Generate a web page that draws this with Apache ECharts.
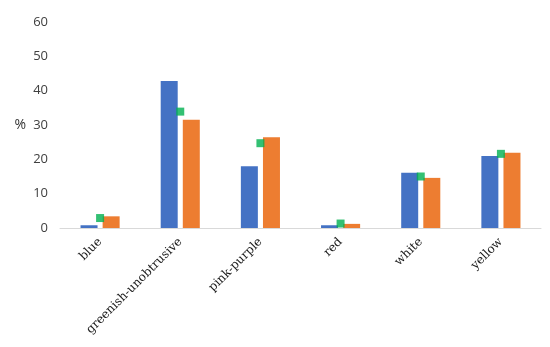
<!DOCTYPE html>
<html><head><meta charset="utf-8">
<script src="https://cdn.jsdelivr.net/npm/echarts@6/dist/echarts.min.js"></script>
<style>html,body{margin:0;padding:0;background:#fff}#c{width:550px;height:347px}</style>
</head><body><div id="c"></div>
<script>
const categories = ["blue","greenish-unobtrusive","pink-purple","red","white","yellow"];
const seriesBlue = [0.8, 42.8, 18.0, 0.8, 16.1, 21.0];
const seriesOrange = [3.4, 31.5, 26.4, 1.2, 14.6, 21.9];
const seriesGreen = [2.9, 33.9, 24.7, 1.3, 15.0, 21.6];
const yTicks = [0, 10, 20, 30, 40, 50, 60];

const chart = echarts.init(document.getElementById('c'), null, {renderer:'canvas'});
chart.setOption({
  animation: false,
  grid: {left: 60, right: 9, top: 22, bottom: 119},
  xAxis: {
    type: 'category', data: categories,
    axisLine: {lineStyle: {color: '#d9d9d9', width: 1}},
    axisTick: {show: false},
    axisLabel: {rotate: 45, fontFamily: 'DejaVu Serif', fontSize: 12, color: '#1a1a1a', margin: 12, interval: 0}
  },
  yAxis: {
    type: 'value', min: yTicks[0], max: yTicks[yTicks.length-1], interval: 10,
    name: '%', nameLocation: 'middle', nameRotate: 0, nameGap: 34,
    nameTextStyle: {fontFamily: 'Open Sans', fontSize: 14, color: '#333'},
    splitLine: {show: false}, axisLine: {show: false}, axisTick: {show: false},
    axisLabel: {fontFamily: 'Open Sans', fontSize: 13, color: '#404040', margin: 12}
  },
  series: [
    {type: 'bar', data: seriesBlue, itemStyle: {color: '#4472C4'}, barWidth: 17, barGap: '30%'},
    {type: 'bar', data: seriesOrange, itemStyle: {color: '#ED7D31'}, barWidth: 17},
    {type: 'scatter', data: seriesGreen, symbol: 'rect', symbolSize: 8, itemStyle: {color: '#00B050'}, z: 5}
  ]
});
</script></body></html>
